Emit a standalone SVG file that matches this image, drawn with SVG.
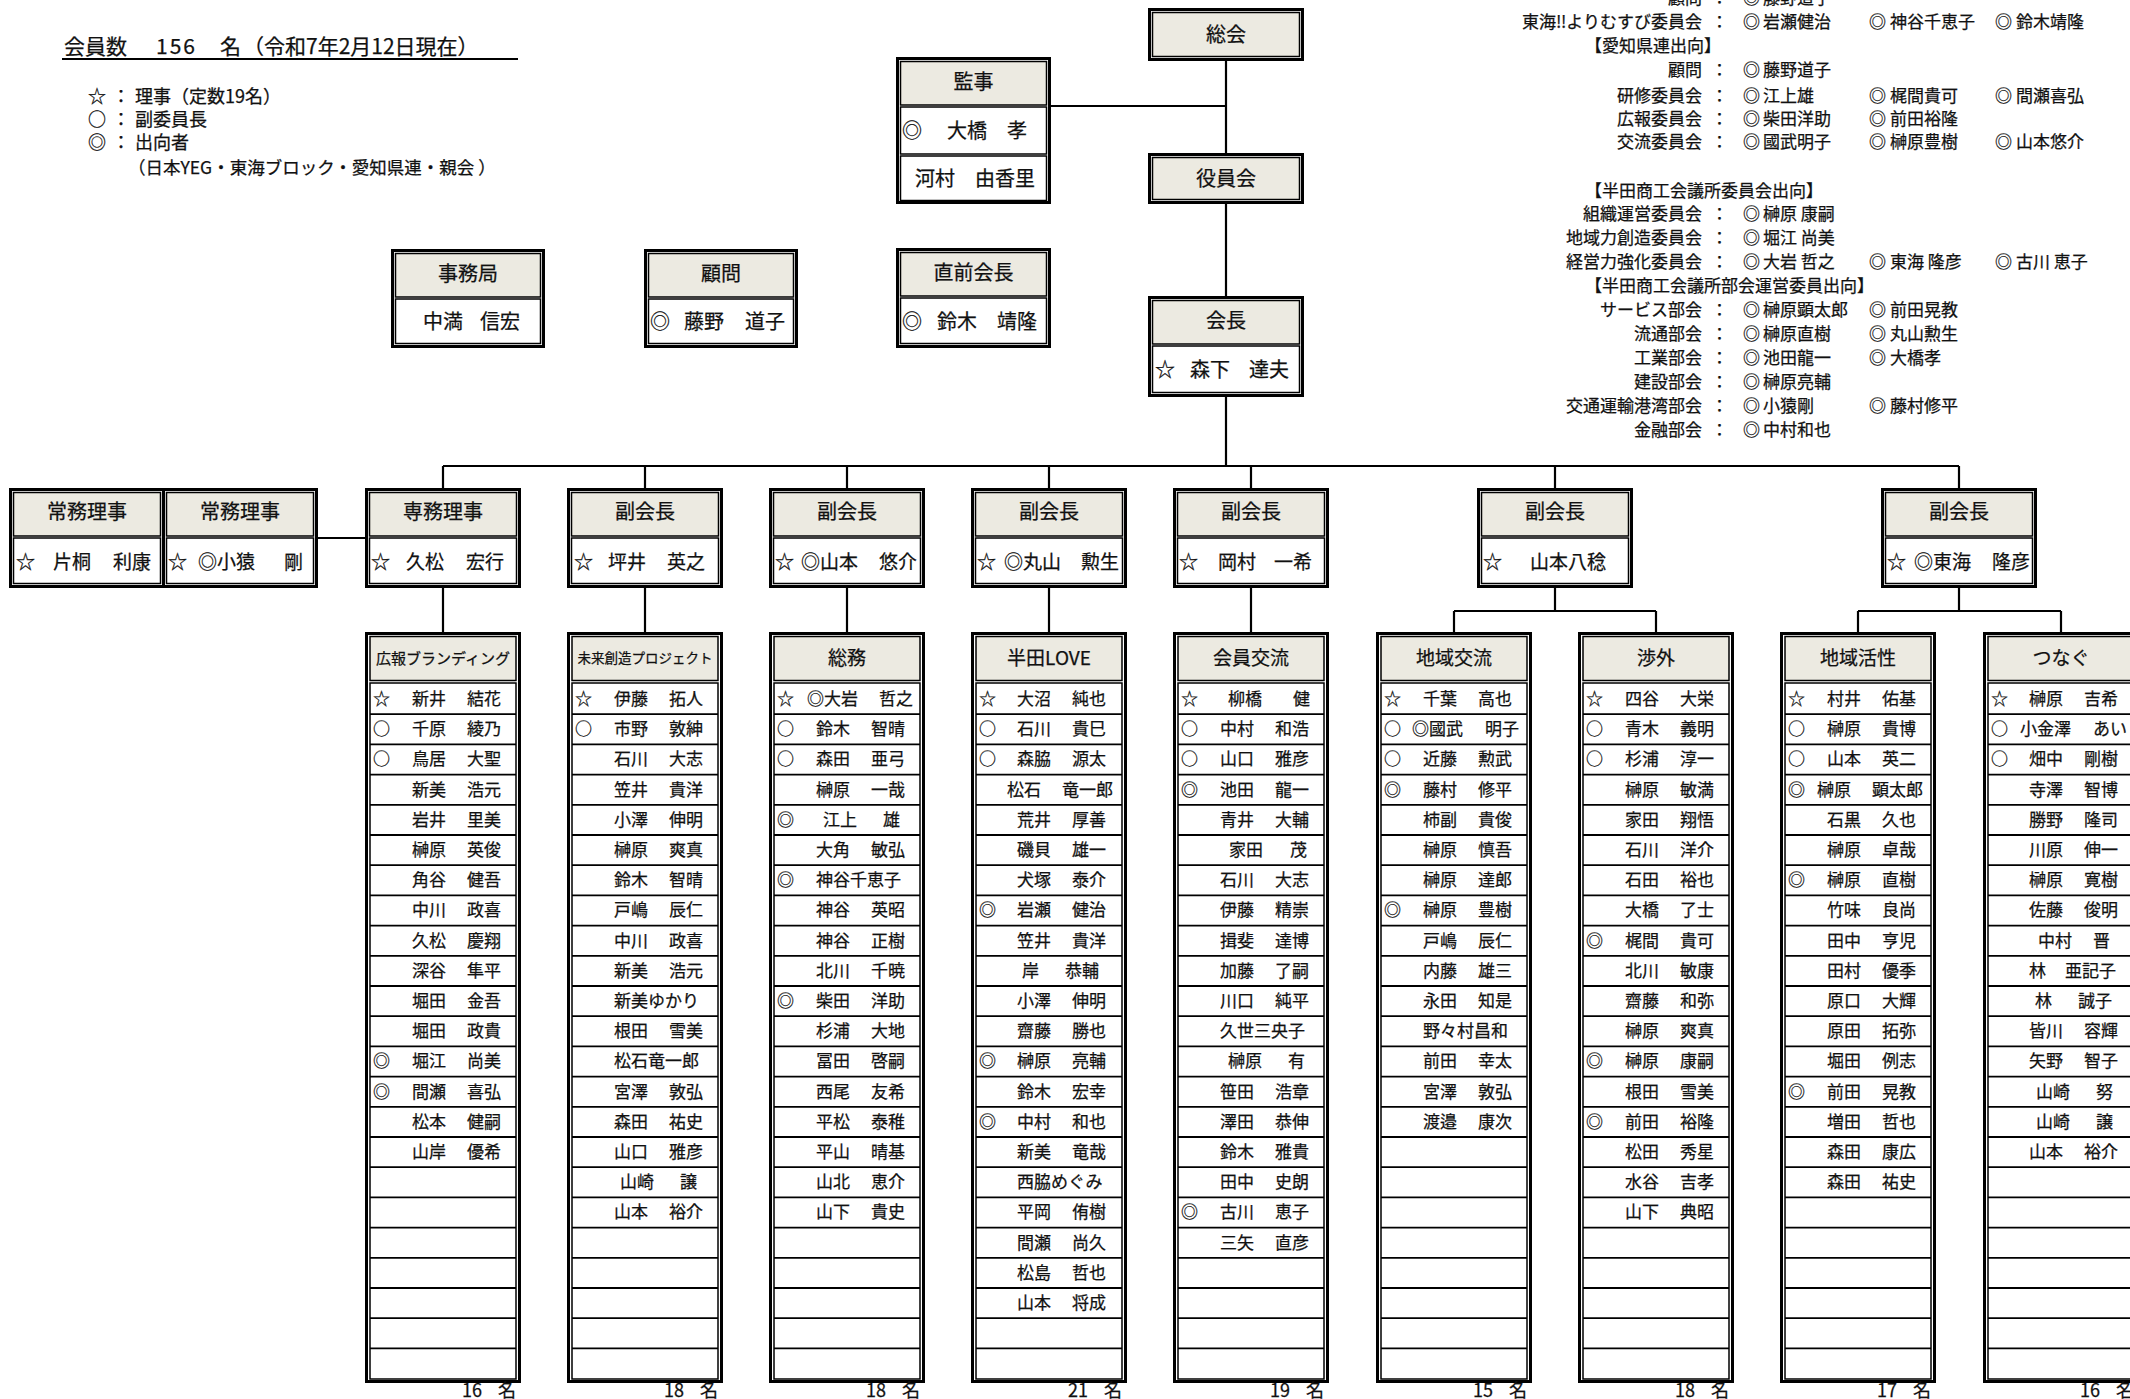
<svg xmlns="http://www.w3.org/2000/svg" xmlns:xlink="http://www.w3.org/1999/xlink" width="2130" height="1399" viewBox="0 0 2130 1399">
<style>
text{font-family:"Noto Sans CJK JP","Noto Sans",sans-serif;fill:#111;stroke:#111;stroke-width:0.25}
.o{fill:#fff;stroke:#000;stroke-width:3}
.h{fill:#ECEAE1;stroke:#000;stroke-width:1.5}
.c{fill:#fff;stroke:#000;stroke-width:1.5}
.b{font-size:20px}
.b9{font-size:19px}
.m{text-anchor:middle}
.n{font-size:17px}
.hd{font-size:19px;text-anchor:middle}
.r{font-size:17px}
.re{font-size:17px;text-anchor:end}
.ln{stroke:#000;stroke-width:2.2;fill:none}
.rl{stroke:#000;stroke-width:1.8;fill:none}
</style>
<defs>
<g id="cf">
<rect class="o" x="1.5" y="633.5" width="153" height="748"/>
<rect class="h" x="5" y="636.5" width="146" height="44"/>
<rect class="c" x="5" y="683" width="146" height="696"/>
<path class="rl" d="M5 714.2H151M5 744.4H151M5 774.6H151M5 804.8H151M5 835H151M5 865.2H151M5 895.4H151M5 925.6H151M5 955.8H151M5 986H151M5 1016.2H151M5 1046.4H151M5 1076.6H151M5 1106.8H151M5 1137H151M5 1167.2H151M5 1197.4H151M5 1227.6H151M5 1257.8H151M5 1288H151M5 1318.2H151M5 1348.4H151"/>
</g>
<g id="b2">
<rect class="o" x="1.5" y="489.5" width="153" height="97"/>
<rect class="h" x="4.5" y="492.5" width="147" height="43.5"/>
<rect class="c" x="4.5" y="538" width="147" height="45.5"/>
</g>
</defs>

<g id="header" style="font-size:21px">
<text x="64" y="54">会員数</text>
<text x="156" y="54" style="letter-spacing:2px">156</text>
<text x="220" y="54">名</text>
<text x="243" y="54">（令和7年2月12日現在）</text>
<path d="M62 59H518" stroke="#000" stroke-width="2"/>
</g>

<g id="legend" style="font-size:18px">
<text x="88" y="103">☆</text><text x="112" y="103">：</text><text x="135" y="103">理事（定数19名）</text>
<text x="88" y="126">○</text><text x="112" y="126">：</text><text x="135" y="126">副委員長</text>
<text x="88" y="149">◎</text><text x="112" y="149">：</text><text x="135" y="149">出向者</text>
<text x="128" y="174" style="font-size:17.5px">（日本YEG・東海ブロック・愛知県連・親会 ）</text>
</g>

<g id="dispatch">
<text class="re" x="1702" y="4">顧問</text><text class="r" x="1711" y="4">：</text><text class="r" x="1743" y="4">◎</text><text class="r" x="1763" y="4">藤野道子</text>
<text class="re" x="1702" y="28">東海‼よりむすび委員会</text><text class="r" x="1711" y="28">：</text><text class="r" x="1743" y="28">◎</text><text class="r" x="1763" y="28">岩瀬健治</text><text class="r" x="1869" y="28">◎</text><text class="r" x="1890" y="28">神谷千恵子</text><text class="r" x="1995" y="28">◎</text><text class="r" x="2016" y="28">鈴木靖隆</text>
<text class="r" x="1585" y="52">【愛知県連出向】</text>
<text class="re" x="1702" y="76">顧問</text><text class="r" x="1711" y="76">：</text><text class="r" x="1743" y="76">◎</text><text class="r" x="1763" y="76">藤野道子</text>
<text class="re" x="1702" y="102">研修委員会</text><text class="r" x="1711" y="102">：</text><text class="r" x="1743" y="102">◎</text><text class="r" x="1763" y="102">江上雄</text><text class="r" x="1869" y="102">◎</text><text class="r" x="1890" y="102">梶間貴可</text><text class="r" x="1995" y="102">◎</text><text class="r" x="2016" y="102">間瀬喜弘</text>
<text class="re" x="1702" y="125">広報委員会</text><text class="r" x="1711" y="125">：</text><text class="r" x="1743" y="125">◎</text><text class="r" x="1763" y="125">柴田洋助</text><text class="r" x="1869" y="125">◎</text><text class="r" x="1890" y="125">前田裕隆</text>
<text class="re" x="1702" y="148">交流委員会</text><text class="r" x="1711" y="148">：</text><text class="r" x="1743" y="148">◎</text><text class="r" x="1763" y="148">國武明子</text><text class="r" x="1869" y="148">◎</text><text class="r" x="1890" y="148">榊原豊樹</text><text class="r" x="1995" y="148">◎</text><text class="r" x="2016" y="148">山本悠介</text>
<text class="r" x="1585" y="197">【半田商工会議所委員会出向】</text>
<text class="re" x="1702" y="220">組織運営委員会</text><text class="r" x="1711" y="220">：</text><text class="r" x="1743" y="220">◎</text><text class="r" x="1763" y="220">榊原 康嗣</text>
<text class="re" x="1702" y="244">地域力創造委員会</text><text class="r" x="1711" y="244">：</text><text class="r" x="1743" y="244">◎</text><text class="r" x="1763" y="244">堀江 尚美</text>
<text class="re" x="1702" y="268">経営力強化委員会</text><text class="r" x="1711" y="268">：</text><text class="r" x="1743" y="268">◎</text><text class="r" x="1763" y="268">大岩 哲之</text><text class="r" x="1869" y="268">◎</text><text class="r" x="1890" y="268">東海 隆彦</text><text class="r" x="1995" y="268">◎</text><text class="r" x="2016" y="268">古川 恵子</text>
<text class="r" x="1585" y="292">【半田商工会議所部会運営委員出向】</text>
<text class="re" x="1702" y="316">サービス部会</text><text class="r" x="1711" y="316">：</text><text class="r" x="1743" y="316">◎</text><text class="r" x="1763" y="316">榊原顕太郎</text><text class="r" x="1869" y="316">◎</text><text class="r" x="1890" y="316">前田晃教</text>
<text class="re" x="1702" y="340">流通部会</text><text class="r" x="1711" y="340">：</text><text class="r" x="1743" y="340">◎</text><text class="r" x="1763" y="340">榊原直樹</text><text class="r" x="1869" y="340">◎</text><text class="r" x="1890" y="340">丸山勲生</text>
<text class="re" x="1702" y="364">工業部会</text><text class="r" x="1711" y="364">：</text><text class="r" x="1743" y="364">◎</text><text class="r" x="1763" y="364">池田龍一</text><text class="r" x="1869" y="364">◎</text><text class="r" x="1890" y="364">大橋孝</text>
<text class="re" x="1702" y="388">建設部会</text><text class="r" x="1711" y="388">：</text><text class="r" x="1743" y="388">◎</text><text class="r" x="1763" y="388">榊原亮輔</text>
<text class="re" x="1702" y="412">交通運輸港湾部会</text><text class="r" x="1711" y="412">：</text><text class="r" x="1743" y="412">◎</text><text class="r" x="1763" y="412">小猿剛</text><text class="r" x="1869" y="412">◎</text><text class="r" x="1890" y="412">藤村修平</text>
<text class="re" x="1702" y="436">金融部会</text><text class="r" x="1711" y="436">：</text><text class="r" x="1743" y="436">◎</text><text class="r" x="1763" y="436">中村和也</text>
</g>

<g id="connectors">
<path class="ln" d="M1226 61V153M1051 106H1226M1226 204V296M1226 397V466M443 466H1959M443 466V488M645 466V488M847 466V488M1049 466V488M1251 466V488M1555 466V488M1959 466V488M317 538H366M443 588V632M645 588V632M847 588V632M1049 588V632M1251 588V632M1555 588V611M1454 611H1656M1454 611V632M1656 611V632M1959 588V611M1858 611H2061M1858 611V632M2061 611V632"/>
</g>

<g id="soukai">
<rect class="o" x="1149.5" y="9.5" width="153" height="50"/>
<rect class="h" x="1152.5" y="12.5" width="147" height="44"/>
<text class="b m" x="1226" y="42">総会</text>
</g>
<g id="yakuinkai">
<rect class="o" x="1149.5" y="154.5" width="153" height="48"/>
<rect class="h" x="1152.5" y="157.5" width="147" height="42"/>
<text class="b m" x="1226" y="186">役員会</text>
</g>
<g id="kanji">
<rect class="o" x="897.5" y="58.5" width="152" height="144"/>
<rect class="h" x="900.5" y="61.5" width="146" height="43.5"/>
<rect class="c" x="900.5" y="107" width="146" height="47"/>
<rect class="c" x="900.5" y="156" width="146" height="44.5"/>
<text class="b m" x="973.5" y="89">監事</text>
<text class="b" x="902" y="138">◎<tspan x="947">大橋</tspan><tspan x="1007">孝</tspan></text>
<text class="b" x="915" y="186">河村<tspan x="975">由香里</tspan></text>
</g>
<g id="zenkaicho">
<rect class="o" x="897.5" y="249.5" width="152" height="97"/>
<rect class="h" x="900.5" y="252.5" width="146" height="43.5"/>
<rect class="c" x="900.5" y="298" width="146" height="45.5"/>
<text class="b m" x="973.5" y="280">直前会長</text>
<text class="b" x="902" y="329">◎<tspan x="937">鈴木</tspan><tspan x="997">靖隆</tspan></text>
</g>
<g id="kaicho">
<rect class="o" x="1149.5" y="297.5" width="153" height="98"/>
<rect class="h" x="1152.5" y="300.5" width="147" height="43.5"/>
<rect class="c" x="1152.5" y="346" width="147" height="46.5"/>
<text class="b m" x="1226" y="328">会長</text>
<text class="b" x="1155" y="377">☆<tspan x="1190">森下</tspan><tspan x="1249">達夫</tspan></text>
</g>
<g id="jimukyoku">
<rect class="o" x="392.5" y="250.5" width="151" height="96"/>
<rect class="h" x="395.5" y="253.5" width="145" height="43.5"/>
<rect class="c" x="395.5" y="299" width="145" height="44.5"/>
<text class="b m" x="468" y="281">事務局</text>
<text class="b" x="423" y="329">中満<tspan x="480">信宏</tspan></text>
</g>
<g id="komon">
<rect class="o" x="645.5" y="250.5" width="151" height="96"/>
<rect class="h" x="648.5" y="253.5" width="145" height="43.5"/>
<rect class="c" x="648.5" y="299" width="145" height="44.5"/>
<text class="b m" x="721" y="281">顧問</text>
<text class="b" x="650" y="329">◎<tspan x="684">藤野</tspan><tspan x="745">道子</tspan></text>
</g>

<g id="jomu1" transform="translate(9,0)">
<use href="#b2"/>
<text class="b m" x="78" y="519">常務理事</text>
<text class="b9" x="7" y="569">☆<tspan x="44">片桐</tspan><tspan x="104">利康</tspan></text>
</g>
<g id="jomu2" transform="translate(162,0)">
<use href="#b2"/>
<text class="b m" x="78" y="519">常務理事</text>
<text class="b9" x="6" y="569">☆<tspan x="36">◎小猿</tspan><tspan x="122">剛</tspan></text>
</g>
<g id="senmu" transform="translate(365,0)">
<use href="#b2"/>
<text class="b m" x="78" y="519">専務理事</text>
<text class="b9" x="6" y="569">☆<tspan x="41">久松</tspan><tspan x="101">宏行</tspan></text>
</g>
<g id="fuku1" transform="translate(567,0)">
<use href="#b2"/>
<text class="b m" x="78" y="519">副会長</text>
<text class="b9" x="7" y="569">☆<tspan x="41">坪井</tspan><tspan x="100">英之</tspan></text>
</g>
<g id="fuku2" transform="translate(769,0)">
<use href="#b2"/>
<text class="b m" x="78" y="519">副会長</text>
<text class="b9" x="6" y="569">☆<tspan x="32">◎山本</tspan><tspan x="110">悠介</tspan></text>
</g>
<g id="fuku3" transform="translate(971,0)">
<use href="#b2"/>
<text class="b m" x="78" y="519">副会長</text>
<text class="b9" x="6" y="569">☆<tspan x="33">◎丸山</tspan><tspan x="110">勲生</tspan></text>
</g>
<g id="fuku4" transform="translate(1173,0)">
<use href="#b2"/>
<text class="b m" x="78" y="519">副会長</text>
<text class="b9" x="6" y="569">☆<tspan x="45">岡村</tspan><tspan x="101">一希</tspan></text>
</g>
<g id="fuku5" transform="translate(1477,0)">
<use href="#b2"/>
<text class="b m" x="78" y="519">副会長</text>
<text class="b9" x="6" y="569">☆<tspan x="53">山本八稔</tspan></text>
</g>
<g id="fuku6" transform="translate(1881,0)">
<use href="#b2"/>
<text class="b m" x="78" y="519">副会長</text>
<text class="b9" x="6" y="569">☆<tspan x="33">◎東海</tspan><tspan x="111">隆彦</tspan></text>
</g>

<g id="col-kouhou" transform="translate(365,0)">
<use href="#cf"/>
<text class="hd" x="78" y="664" style="font-size:15px">広報ブランディング</text>
<text class="n" x="8" y="705">☆<tspan x="47">新井</tspan><tspan x="102">結花</tspan></text>
<text class="n" x="8" y="735">○<tspan x="47">千原</tspan><tspan x="102">綾乃</tspan></text>
<text class="n" x="8" y="765">○<tspan x="47">鳥居</tspan><tspan x="102">大聖</tspan></text>
<text class="n" x="47" y="796">新美<tspan x="102">浩元</tspan></text>
<text class="n" x="47" y="826">岩井<tspan x="102">里美</tspan></text>
<text class="n" x="47" y="856">榊原<tspan x="102">英俊</tspan></text>
<text class="n" x="47" y="886">角谷<tspan x="102">健吾</tspan></text>
<text class="n" x="47" y="916">中川<tspan x="102">政喜</tspan></text>
<text class="n" x="47" y="947">久松<tspan x="102">慶翔</tspan></text>
<text class="n" x="47" y="977">深谷<tspan x="102">隼平</tspan></text>
<text class="n" x="47" y="1007">堀田<tspan x="102">金吾</tspan></text>
<text class="n" x="47" y="1037">堀田<tspan x="102">政貴</tspan></text>
<text class="n" x="8" y="1067">◎<tspan x="47">堀江</tspan><tspan x="102">尚美</tspan></text>
<text class="n" x="8" y="1098">◎<tspan x="47">間瀬</tspan><tspan x="102">喜弘</tspan></text>
<text class="n" x="47" y="1128">松本<tspan x="102">健嗣</tspan></text>
<text class="n" x="47" y="1158">山岸<tspan x="102">優希</tspan></text>
<text class="n" x="97" y="1397" style="font-size:18px">16<tspan x="133">名</tspan></text>
</g>

<g id="col-mirai" transform="translate(567,0)">
<use href="#cf"/>
<text class="hd" x="78" y="663" style="font-size:13.5px">未来創造プロジェクト</text>
<text class="n" x="8" y="705">☆<tspan x="47">伊藤</tspan><tspan x="102">拓人</tspan></text>
<text class="n" x="8" y="735">○<tspan x="47">市野</tspan><tspan x="102">敦紳</tspan></text>
<text class="n" x="47" y="765">石川<tspan x="102">大志</tspan></text>
<text class="n" x="47" y="796">笠井<tspan x="102">貴洋</tspan></text>
<text class="n" x="47" y="826">小澤<tspan x="102">伸明</tspan></text>
<text class="n" x="47" y="856">榊原<tspan x="102">爽真</tspan></text>
<text class="n" x="47" y="886">鈴木<tspan x="102">智晴</tspan></text>
<text class="n" x="47" y="916">戸嶋<tspan x="102">辰仁</tspan></text>
<text class="n" x="47" y="947">中川<tspan x="102">政喜</tspan></text>
<text class="n" x="47" y="977">新美<tspan x="102">浩元</tspan></text>
<text class="n" x="47" y="1007">新美ゆかり</text>
<text class="n" x="47" y="1037">根田<tspan x="102">雪美</tspan></text>
<text class="n" x="47" y="1067">松石竜一郎</text>
<text class="n" x="47" y="1098">宮澤<tspan x="102">敦弘</tspan></text>
<text class="n" x="47" y="1128">森田<tspan x="102">祐史</tspan></text>
<text class="n" x="47" y="1158">山口<tspan x="102">雅彦</tspan></text>
<text class="n" x="53" y="1188">山崎<tspan x="113">譲</tspan></text>
<text class="n" x="47" y="1218">山本<tspan x="102">裕介</tspan></text>
<text class="n" x="97" y="1397" style="font-size:18px">18<tspan x="133">名</tspan></text>
</g>

<g id="col-soumu" transform="translate(769,0)">
<use href="#cf"/>
<text class="hd" x="78" y="665">総務</text>
<text class="n" x="8" y="705">☆<tspan x="38">◎大岩</tspan><tspan x="110">哲之</tspan></text>
<text class="n" x="8" y="735">○<tspan x="47">鈴木</tspan><tspan x="102">智晴</tspan></text>
<text class="n" x="8" y="765">○<tspan x="47">森田</tspan><tspan x="102">亜弓</tspan></text>
<text class="n" x="47" y="796">榊原<tspan x="102">一哉</tspan></text>
<text class="n" x="8" y="826">◎<tspan x="54">江上</tspan><tspan x="114">雄</tspan></text>
<text class="n" x="47" y="856">大角<tspan x="102">敏弘</tspan></text>
<text class="n" x="8" y="886">◎<tspan x="47">神谷千恵子</tspan></text>
<text class="n" x="47" y="916">神谷<tspan x="102">英昭</tspan></text>
<text class="n" x="47" y="947">神谷<tspan x="102">正樹</tspan></text>
<text class="n" x="47" y="977">北川<tspan x="102">千暁</tspan></text>
<text class="n" x="8" y="1007">◎<tspan x="47">柴田</tspan><tspan x="102">洋助</tspan></text>
<text class="n" x="47" y="1037">杉浦<tspan x="102">大地</tspan></text>
<text class="n" x="47" y="1067">冨田<tspan x="102">啓嗣</tspan></text>
<text class="n" x="47" y="1098">西尾<tspan x="102">友希</tspan></text>
<text class="n" x="47" y="1128">平松<tspan x="102">泰稚</tspan></text>
<text class="n" x="47" y="1158">平山<tspan x="102">晴基</tspan></text>
<text class="n" x="47" y="1188">山北<tspan x="102">恵介</tspan></text>
<text class="n" x="47" y="1218">山下<tspan x="102">貴史</tspan></text>
<text class="n" x="97" y="1397" style="font-size:18px">18<tspan x="133">名</tspan></text>
</g>

<g id="col-handalove" transform="translate(971,0)">
<use href="#cf"/>
<text class="hd" x="78" y="665">半田LOVE</text>
<text class="n" x="8" y="705">☆<tspan x="46">大沼</tspan><tspan x="101">純也</tspan></text>
<text class="n" x="8" y="735">○<tspan x="46">石川</tspan><tspan x="101">貴巳</tspan></text>
<text class="n" x="8" y="765">○<tspan x="46">森脇</tspan><tspan x="101">源太</tspan></text>
<text class="n" x="36" y="796">松石<tspan x="91">竜一郎</tspan></text>
<text class="n" x="46" y="826">荒井<tspan x="101">厚善</tspan></text>
<text class="n" x="46" y="856">磯貝<tspan x="101">雄一</tspan></text>
<text class="n" x="46" y="886">犬塚<tspan x="101">泰介</tspan></text>
<text class="n" x="8" y="916">◎<tspan x="46">岩瀬</tspan><tspan x="101">健治</tspan></text>
<text class="n" x="46" y="947">笠井<tspan x="101">貴洋</tspan></text>
<text class="n" x="51" y="977">岸<tspan x="94">恭輔</tspan></text>
<text class="n" x="46" y="1007">小澤<tspan x="101">伸明</tspan></text>
<text class="n" x="46" y="1037">齋藤<tspan x="101">勝也</tspan></text>
<text class="n" x="8" y="1067">◎<tspan x="46">榊原</tspan><tspan x="101">亮輔</tspan></text>
<text class="n" x="46" y="1098">鈴木<tspan x="101">宏幸</tspan></text>
<text class="n" x="8" y="1128">◎<tspan x="46">中村</tspan><tspan x="101">和也</tspan></text>
<text class="n" x="46" y="1158">新美<tspan x="101">竜哉</tspan></text>
<text class="n" x="46" y="1188">西脇めぐみ</text>
<text class="n" x="46" y="1218">平岡<tspan x="101">侑樹</tspan></text>
<text class="n" x="46" y="1249">間瀬<tspan x="101">尚久</tspan></text>
<text class="n" x="46" y="1279">松島<tspan x="101">哲也</tspan></text>
<text class="n" x="46" y="1309">山本<tspan x="101">将成</tspan></text>
<text class="n" x="97" y="1397" style="font-size:18px">21<tspan x="133">名</tspan></text>
</g>

<g id="col-kaiin" transform="translate(1173,0)">
<use href="#cf"/>
<text class="hd" x="78" y="665">会員交流</text>
<text class="n" x="8" y="705">☆<tspan x="55">柳橋</tspan><tspan x="120">健</tspan></text>
<text class="n" x="8" y="735">○<tspan x="47">中村</tspan><tspan x="102">和浩</tspan></text>
<text class="n" x="8" y="765">○<tspan x="47">山口</tspan><tspan x="102">雅彦</tspan></text>
<text class="n" x="8" y="796">◎<tspan x="47">池田</tspan><tspan x="102">龍一</tspan></text>
<text class="n" x="47" y="826">青井<tspan x="102">大輔</tspan></text>
<text class="n" x="56" y="856">家田<tspan x="117">茂</tspan></text>
<text class="n" x="47" y="886">石川<tspan x="102">大志</tspan></text>
<text class="n" x="47" y="916">伊藤<tspan x="102">精崇</tspan></text>
<text class="n" x="47" y="947">揖斐<tspan x="102">達博</tspan></text>
<text class="n" x="47" y="977">加藤<tspan x="102">了嗣</tspan></text>
<text class="n" x="47" y="1007">川口<tspan x="102">純平</tspan></text>
<text class="n" x="47" y="1037">久世三央子</text>
<text class="n" x="55" y="1067">榊原<tspan x="115">有</tspan></text>
<text class="n" x="47" y="1098">笹田<tspan x="102">浩章</tspan></text>
<text class="n" x="47" y="1128">澤田<tspan x="102">恭伸</tspan></text>
<text class="n" x="47" y="1158">鈴木<tspan x="102">雅貴</tspan></text>
<text class="n" x="47" y="1188">田中<tspan x="102">史朗</tspan></text>
<text class="n" x="8" y="1218">◎<tspan x="47">古川</tspan><tspan x="102">恵子</tspan></text>
<text class="n" x="47" y="1249">三矢<tspan x="102">直彦</tspan></text>
<text class="n" x="97" y="1397" style="font-size:18px">19<tspan x="133">名</tspan></text>
</g>

<g id="col-chiikikoryu" transform="translate(1376,0)">
<use href="#cf"/>
<text class="hd" x="78" y="665">地域交流</text>
<text class="n" x="8" y="705">☆<tspan x="47">千葉</tspan><tspan x="102">高也</tspan></text>
<text class="n" x="8" y="735">○<tspan x="36">◎國武</tspan><tspan x="109">明子</tspan></text>
<text class="n" x="8" y="765">○<tspan x="47">近藤</tspan><tspan x="102">勲武</tspan></text>
<text class="n" x="8" y="796">◎<tspan x="47">藤村</tspan><tspan x="102">修平</tspan></text>
<text class="n" x="47" y="826">柿副<tspan x="102">貴俊</tspan></text>
<text class="n" x="47" y="856">榊原<tspan x="102">慎吾</tspan></text>
<text class="n" x="47" y="886">榊原<tspan x="102">達郎</tspan></text>
<text class="n" x="8" y="916">◎<tspan x="47">榊原</tspan><tspan x="102">豊樹</tspan></text>
<text class="n" x="47" y="947">戸嶋<tspan x="102">辰仁</tspan></text>
<text class="n" x="47" y="977">内藤<tspan x="102">雄三</tspan></text>
<text class="n" x="47" y="1007">永田<tspan x="102">知是</tspan></text>
<text class="n" x="47" y="1037">野々村昌和</text>
<text class="n" x="47" y="1067">前田<tspan x="102">幸太</tspan></text>
<text class="n" x="47" y="1098">宮澤<tspan x="102">敦弘</tspan></text>
<text class="n" x="47" y="1128">渡邉<tspan x="102">康次</tspan></text>
<text class="n" x="97" y="1397" style="font-size:18px">15<tspan x="133">名</tspan></text>
</g>

<g id="col-shogai" transform="translate(1578,0)">
<use href="#cf"/>
<text class="hd" x="78" y="665">渉外</text>
<text class="n" x="8" y="705">☆<tspan x="47">四谷</tspan><tspan x="102">大栄</tspan></text>
<text class="n" x="8" y="735">○<tspan x="47">青木</tspan><tspan x="102">義明</tspan></text>
<text class="n" x="8" y="765">○<tspan x="47">杉浦</tspan><tspan x="102">淳一</tspan></text>
<text class="n" x="47" y="796">榊原<tspan x="102">敏満</tspan></text>
<text class="n" x="47" y="826">家田<tspan x="102">翔悟</tspan></text>
<text class="n" x="47" y="856">石川<tspan x="102">洋介</tspan></text>
<text class="n" x="47" y="886">石田<tspan x="102">裕也</tspan></text>
<text class="n" x="47" y="916">大橋<tspan x="102">了士</tspan></text>
<text class="n" x="8" y="947">◎<tspan x="47">梶間</tspan><tspan x="102">貴可</tspan></text>
<text class="n" x="47" y="977">北川<tspan x="102">敏康</tspan></text>
<text class="n" x="47" y="1007">齋藤<tspan x="102">和弥</tspan></text>
<text class="n" x="47" y="1037">榊原<tspan x="102">爽真</tspan></text>
<text class="n" x="8" y="1067">◎<tspan x="47">榊原</tspan><tspan x="102">康嗣</tspan></text>
<text class="n" x="47" y="1098">根田<tspan x="102">雪美</tspan></text>
<text class="n" x="8" y="1128">◎<tspan x="47">前田</tspan><tspan x="102">裕隆</tspan></text>
<text class="n" x="47" y="1158">松田<tspan x="102">秀星</tspan></text>
<text class="n" x="47" y="1188">水谷<tspan x="102">吉孝</tspan></text>
<text class="n" x="47" y="1218">山下<tspan x="102">典昭</tspan></text>
<text class="n" x="97" y="1397" style="font-size:18px">18<tspan x="133">名</tspan></text>
</g>

<g id="col-chiikikassei" transform="translate(1780,0)">
<use href="#cf"/>
<text class="hd" x="78" y="665">地域活性</text>
<text class="n" x="8" y="705">☆<tspan x="47">村井</tspan><tspan x="102">佑基</tspan></text>
<text class="n" x="8" y="735">○<tspan x="47">榊原</tspan><tspan x="102">貴博</tspan></text>
<text class="n" x="8" y="765">○<tspan x="47">山本</tspan><tspan x="102">英二</tspan></text>
<text class="n" x="8" y="796">◎<tspan x="37">榊原</tspan><tspan x="92">顕太郎</tspan></text>
<text class="n" x="47" y="826">石黒<tspan x="102">久也</tspan></text>
<text class="n" x="47" y="856">榊原<tspan x="102">卓哉</tspan></text>
<text class="n" x="8" y="886">◎<tspan x="47">榊原</tspan><tspan x="102">直樹</tspan></text>
<text class="n" x="47" y="916">竹味<tspan x="102">良尚</tspan></text>
<text class="n" x="47" y="947">田中<tspan x="102">亨児</tspan></text>
<text class="n" x="47" y="977">田村<tspan x="102">優季</tspan></text>
<text class="n" x="47" y="1007">原口<tspan x="102">大輝</tspan></text>
<text class="n" x="47" y="1037">原田<tspan x="102">拓弥</tspan></text>
<text class="n" x="47" y="1067">堀田<tspan x="102">例志</tspan></text>
<text class="n" x="8" y="1098">◎<tspan x="47">前田</tspan><tspan x="102">晃教</tspan></text>
<text class="n" x="47" y="1128">増田<tspan x="102">哲也</tspan></text>
<text class="n" x="47" y="1158">森田<tspan x="102">康広</tspan></text>
<text class="n" x="47" y="1188">森田<tspan x="102">祐史</tspan></text>
<text class="n" x="97" y="1397" style="font-size:18px">17<tspan x="133">名</tspan></text>
</g>

<g id="col-tsunagu" transform="translate(1983,0)">
<use href="#cf"/>
<text class="hd" x="78" y="665">つなぐ</text>
<text class="n" x="8" y="705">☆<tspan x="46">榊原</tspan><tspan x="101">吉希</tspan></text>
<text class="n" x="8" y="735">○<tspan x="37">小金澤</tspan><tspan x="110">あい</tspan></text>
<text class="n" x="8" y="765">○<tspan x="46">畑中</tspan><tspan x="101">剛樹</tspan></text>
<text class="n" x="46" y="796">寺澤<tspan x="101">智博</tspan></text>
<text class="n" x="46" y="826">勝野<tspan x="101">隆司</tspan></text>
<text class="n" x="46" y="856">川原<tspan x="101">伸一</tspan></text>
<text class="n" x="46" y="886">榊原<tspan x="101">寛樹</tspan></text>
<text class="n" x="46" y="916">佐藤<tspan x="101">俊明</tspan></text>
<text class="n" x="55" y="947">中村<tspan x="110">晋</tspan></text>
<text class="n" x="46" y="977">林<tspan x="82">亜記子</tspan></text>
<text class="n" x="52" y="1007">林<tspan x="95">誠子</tspan></text>
<text class="n" x="46" y="1037">皆川<tspan x="101">容輝</tspan></text>
<text class="n" x="46" y="1067">矢野<tspan x="101">智子</tspan></text>
<text class="n" x="53" y="1098">山崎<tspan x="113">努</tspan></text>
<text class="n" x="53" y="1128">山崎<tspan x="113">譲</tspan></text>
<text class="n" x="46" y="1158">山本<tspan x="101">裕介</tspan></text>
<text class="n" x="97" y="1397" style="font-size:18px">16<tspan x="133">名</tspan></text>
</g>
</svg>
